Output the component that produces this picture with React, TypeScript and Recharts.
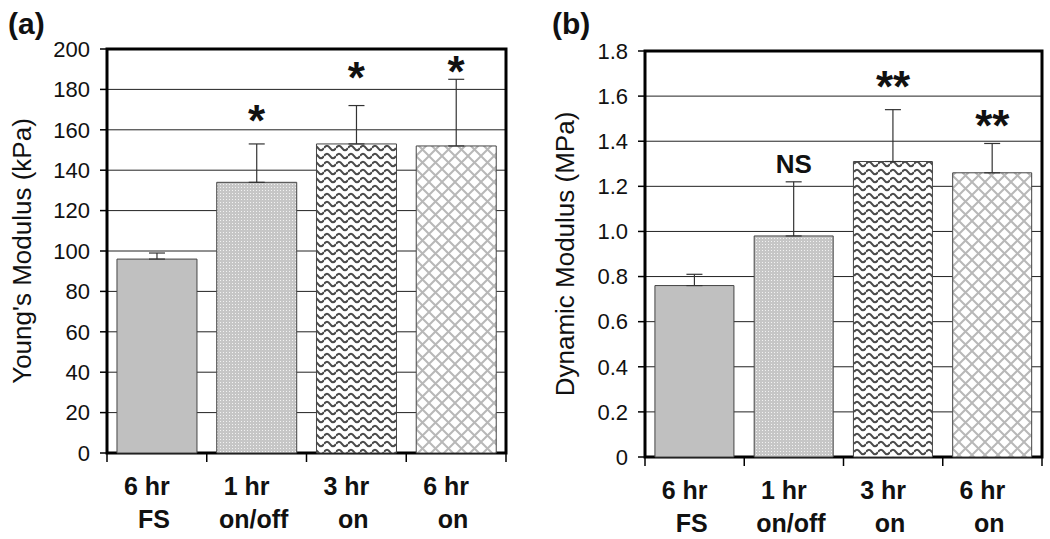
import React from 'react';
import { BarChart, Bar, XAxis, YAxis, CartesianGrid, ErrorBar, Cell, ReferenceArea, ReferenceDot } from 'recharts';

const FONT = 'Arial, "Liberation Sans", Helvetica, sans-serif';

// categories (two text lines each)
const catTop = ['6 hr', '1 hr', '3 hr', '6 hr'];
const catBottom = ['FS', 'on/off', 'on', 'on'];
const catIds = ['6 hr FS', '1 hr on/off', '3 hr on', '6 hr on'];

// (a) Young's modulus, kPa
const youngMean = [96, 134, 153, 152];
const youngSd = [3, 19, 19, 33];
const youngSig = ['', '*', '*', '*'];
const youngSigAt = [0, 168, 189, 192];
const youngTicks = [0, 20, 40, 60, 80, 100, 120, 140, 160, 180, 200];

// (b) dynamic modulus, MPa
const dynMean = [0.76, 0.98, 1.31, 1.26];
const dynSd = [0.05, 0.24, 0.23, 0.13];
const dynSig = ['', 'NS', '**', '**'];
const dynSigAt = [0, 1.3, 1.67, 1.5];
const dynTicks = [0, 0.2, 0.4, 0.6, 0.8, 1.0, 1.2, 1.4, 1.6, 1.8];

const barFills = ['#c0c0c0', 'url(#pDots)', 'url(#pWaves)', 'url(#pHatch)'];

function CatTick(props: any) {
  const { x, y, payload } = props;
  const i = payload.index;
  const half = payload.offset ?? 49.8;
  return (
    <g>
      <line x1={x - half} y1={y} x2={x - half} y2={y + 9} stroke="#000" strokeWidth={1.5} />
      {i === catIds.length - 1 && (
        <line x1={x + half} y1={y} x2={x + half} y2={y + 9} stroke="#000" strokeWidth={1.5} />
      )}
      <text x={x - 10} y={y + 42} textAnchor="middle" fontFamily={FONT} fontWeight="bold" fontSize={25} fill="#111">
        {catTop[i]}
      </text>
      <text x={x - 3} y={y + 75} textAnchor="middle" fontFamily={FONT} fontWeight="bold" fontSize={25} fill="#111">
        {catBottom[i]}
      </text>
    </g>
  );
}

interface PanelProps {
  tag: string;
  title: string;
  mean: number[];
  sd: number[];
  sig: string[];
  sigAt: number[];
  ticks: number[];
  fmt: (v: number) => string;
  margin: { top: number; right: number; bottom: number; left: number };
  axisWidth: number;
  axisHeight: number;
  titleX: number;
}

function Panel({ tag, title, mean, sd, sig, sigAt, ticks, fmt, margin, axisWidth, axisHeight, titleX }: PanelProps) {
  const data = mean.map((v, i) => ({ cat: catIds[i], value: v, err: [0, sd[i]] }));
  const top = ticks[ticks.length - 1];
  return (
    <BarChart width={520} height={539} data={data} margin={margin} barCategoryGap="10%">
      <CartesianGrid vertical={false} stroke="#222" strokeWidth={1} />
      <XAxis
        dataKey="cat"
        height={axisHeight}
        axisLine={false}
        tickLine={false}
        tickSize={0}
        tickMargin={0}
        interval={0}
        tick={<CatTick />}
      />
      <YAxis
        width={axisWidth}
        domain={[0, top]}
        ticks={ticks}
        interval={0}
        axisLine={false}
        tickSize={7}
        tickMargin={10}
        tickLine={{ stroke: '#000', strokeWidth: 1.5 }}
        tickFormatter={fmt}
        tick={{ fontFamily: FONT, fontSize: 22, fill: '#111' }}
        label={{
          content: (p: any) => {
            const vb = p.viewBox || {};
            const cx = (vb.x ?? 0) + titleX;
            const cy = (vb.y ?? 0) + (vb.height ?? 0) / 2;
            return (
              <text
                x={cx}
                y={cy}
                transform={`rotate(-90, ${cx}, ${cy})`}
                textAnchor="middle"
                dominantBaseline="central"
                fontFamily={FONT}
                fontSize={26}
                fill="#111"
              >
                {title}
              </text>
            );
          },
        }}
      />
      <Bar dataKey="value" isAnimationActive={false} stroke="#444" strokeWidth={1}>
        {data.map((d, i) => (
          <Cell key={d.cat} fill={barFills[i]} />
        ))}
        <ErrorBar dataKey="err" direction="y" width={8} stroke="#333" strokeWidth={1.2} isAnimationActive={false} />
      </Bar>
      <ReferenceArea y1={0} y2={top} fill="none" stroke="#000" strokeWidth={3} ifOverflow="visible" />
      {sig.map((s, i) =>
        s ? (
          <ReferenceDot
            key={catIds[i]}
            x={catIds[i]}
            y={sigAt[i]}
            r={0}
            ifOverflow="visible"
            shape={(p: any) => {
              const star = s.startsWith('*');
              const fs = star ? 44 : 26;
              return (
                <text
                  x={p.cx}
                  y={p.cy + (star ? fs * 0.5 : fs * 0.36)}
                  textAnchor="middle"
                  fontFamily={FONT}
                  fontWeight="bold"
                  fontSize={fs}
                  fill="#111"
                >
                  {s}
                </text>
              );
            }}
          />
        ) : null
      )}
      <text x={tag === '(a)' ? 8 : 22} y={34} fontFamily={FONT} fontWeight="bold" fontSize={30} fill="#111">
        {tag}
      </text>
    </BarChart>
  );
}

export default function App() {
  return (
    <div style={{ position: 'absolute', left: 0, top: 0, width: 1050, height: 539, background: '#fff' }}>
      <svg width={0} height={0} style={{ position: 'absolute' }}>
        <defs>
          <pattern id="pDots" width={3} height={3} patternUnits="userSpaceOnUse">
            <rect width={3} height={3} fill="#c6c6c6" />
            <rect x={1} y={1} width={1} height={1} fill="#f2f2f2" />
          </pattern>
          <pattern id="pWaves" width={12} height={8} patternUnits="userSpaceOnUse">
            <rect width={12} height={8} fill="#fff" />
            <path d="M0,4 Q3,-0.5 6,4 T12,4" fill="none" stroke="#4a4a4a" strokeWidth={2.2} />
          </pattern>
          <pattern id="pHatch" width={13} height={13} patternUnits="userSpaceOnUse">
            <rect width={13} height={13} fill="#fff" />
            <path d="M0,0 L13,13 M13,0 L0,13" stroke="#b8b8b8" strokeWidth={2} />
          </pattern>
        </defs>
      </svg>
      <div style={{ position: 'absolute', left: 0, top: 0 }}>
        <Panel
          tag="(a)"
          title="Young's Modulus (kPa)"
          mean={youngMean}
          sd={youngSd}
          sig={youngSig}
          sigAt={youngSigAt}
          ticks={youngTicks}
          fmt={(v) => String(v)}
          margin={{ top: 49, right: 14, bottom: 0, left: 0 }}
          axisWidth={107}
          axisHeight={86}
          titleX={22}
        />
      </div>
      <div style={{ position: 'absolute', left: 530, top: 0 }}>
        <Panel
          tag="(b)"
          title="Dynamic Modulus (MPa)"
          mean={dynMean}
          sd={dynSd}
          sig={dynSig}
          sigAt={dynSigAt}
          ticks={dynTicks}
          fmt={(v) => (v === 0 ? '0' : v.toFixed(1))}
          margin={{ top: 51, right: 8, bottom: 0, left: 0 }}
          axisWidth={115}
          axisHeight={82}
          titleX={35}
        />
      </div>
    </div>
  );
}
